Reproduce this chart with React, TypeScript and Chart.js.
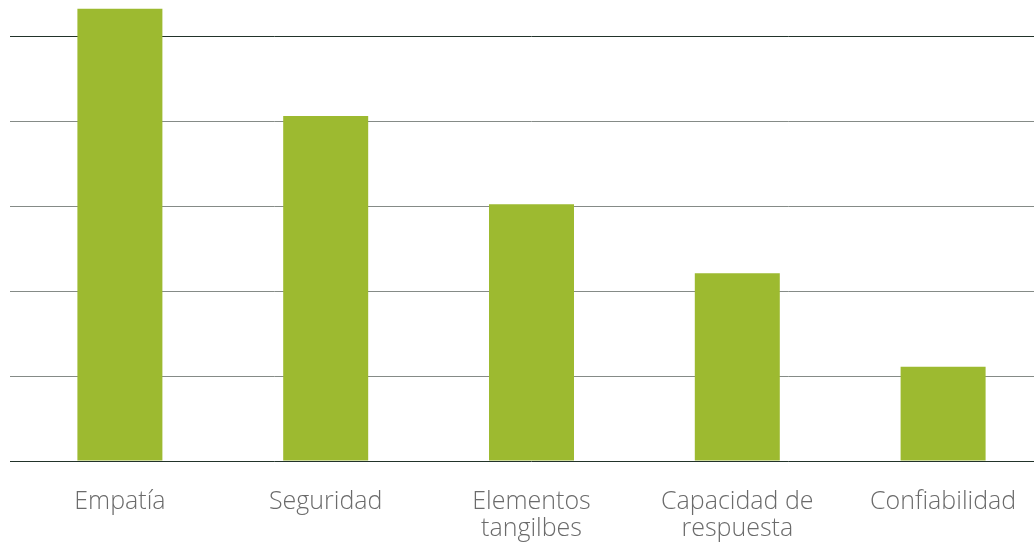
import React, { useEffect, useRef } from "react";
import { Chart, registerables } from "chart.js";

Chart.register(...registerables);

const categories: (string | string[])[] = [
  "Empatía",
  "Seguridad",
  ["Elementos", "tangilbes"],
  ["Capacidad de", "respuesta"],
  "Confiabilidad",
];
const values = [5.32, 4.06, 3.02, 2.21, 1.11];
const yTicks = [0, 1, 2, 3, 4, 5];

export default function App() {
  const ref = useRef<HTMLCanvasElement | null>(null);
  useEffect(() => {
    if (!ref.current) return;
    const chart = new Chart(ref.current, {
      type: "bar",
      data: {
        labels: categories,
        datasets: [
          {
            data: values,
            backgroundColor: "#9dba30",
            borderWidth: 0,
            barPercentage: 1,
            categoryPercentage: 0.413,
          },
        ],
      },
      options: {
        animation: false,
        responsive: true,
        maintainAspectRatio: false,
        layout: { padding: { left: 10, top: 2, right: 0, bottom: 0 } },
        plugins: { legend: { display: false }, tooltip: { enabled: false } },
        scales: {
          x: {
            grid: { display: false },
            border: { display: false },
            ticks: {
              color: "#6b6b6b",
              padding: 19,
              maxRotation: 0,
              autoSkip: false,
              font: { family: "'Open Sans'", size: 25, weight: 300, lineHeight: 1.08 },
            },
            afterFit: (scale: any) => {
              scale.height = 81;
            },
          },
          y: {
            min: yTicks[0],
            max: 5.4,
            border: { display: false },
            grid: {
              drawTicks: true,
              tickLength: 7,
              lineWidth: 1,
              color: (ctx: any) => {
                const v = ctx.tick ? ctx.tick.value : 0;
                return v === yTicks[0] || v === yTicks[yTicks.length - 1] ? "#22332a" : "#858b87";
              },
            },
            ticks: { display: false, stepSize: 1, includeBounds: false },
          },
        },
      },
    });
    return () => chart.destroy();
  }, []);
  return (
    <div style={{ position: "fixed", left: 0, top: 0, width: 1046, height: 542 }}>
      <canvas ref={ref} />
    </div>
  );
}
